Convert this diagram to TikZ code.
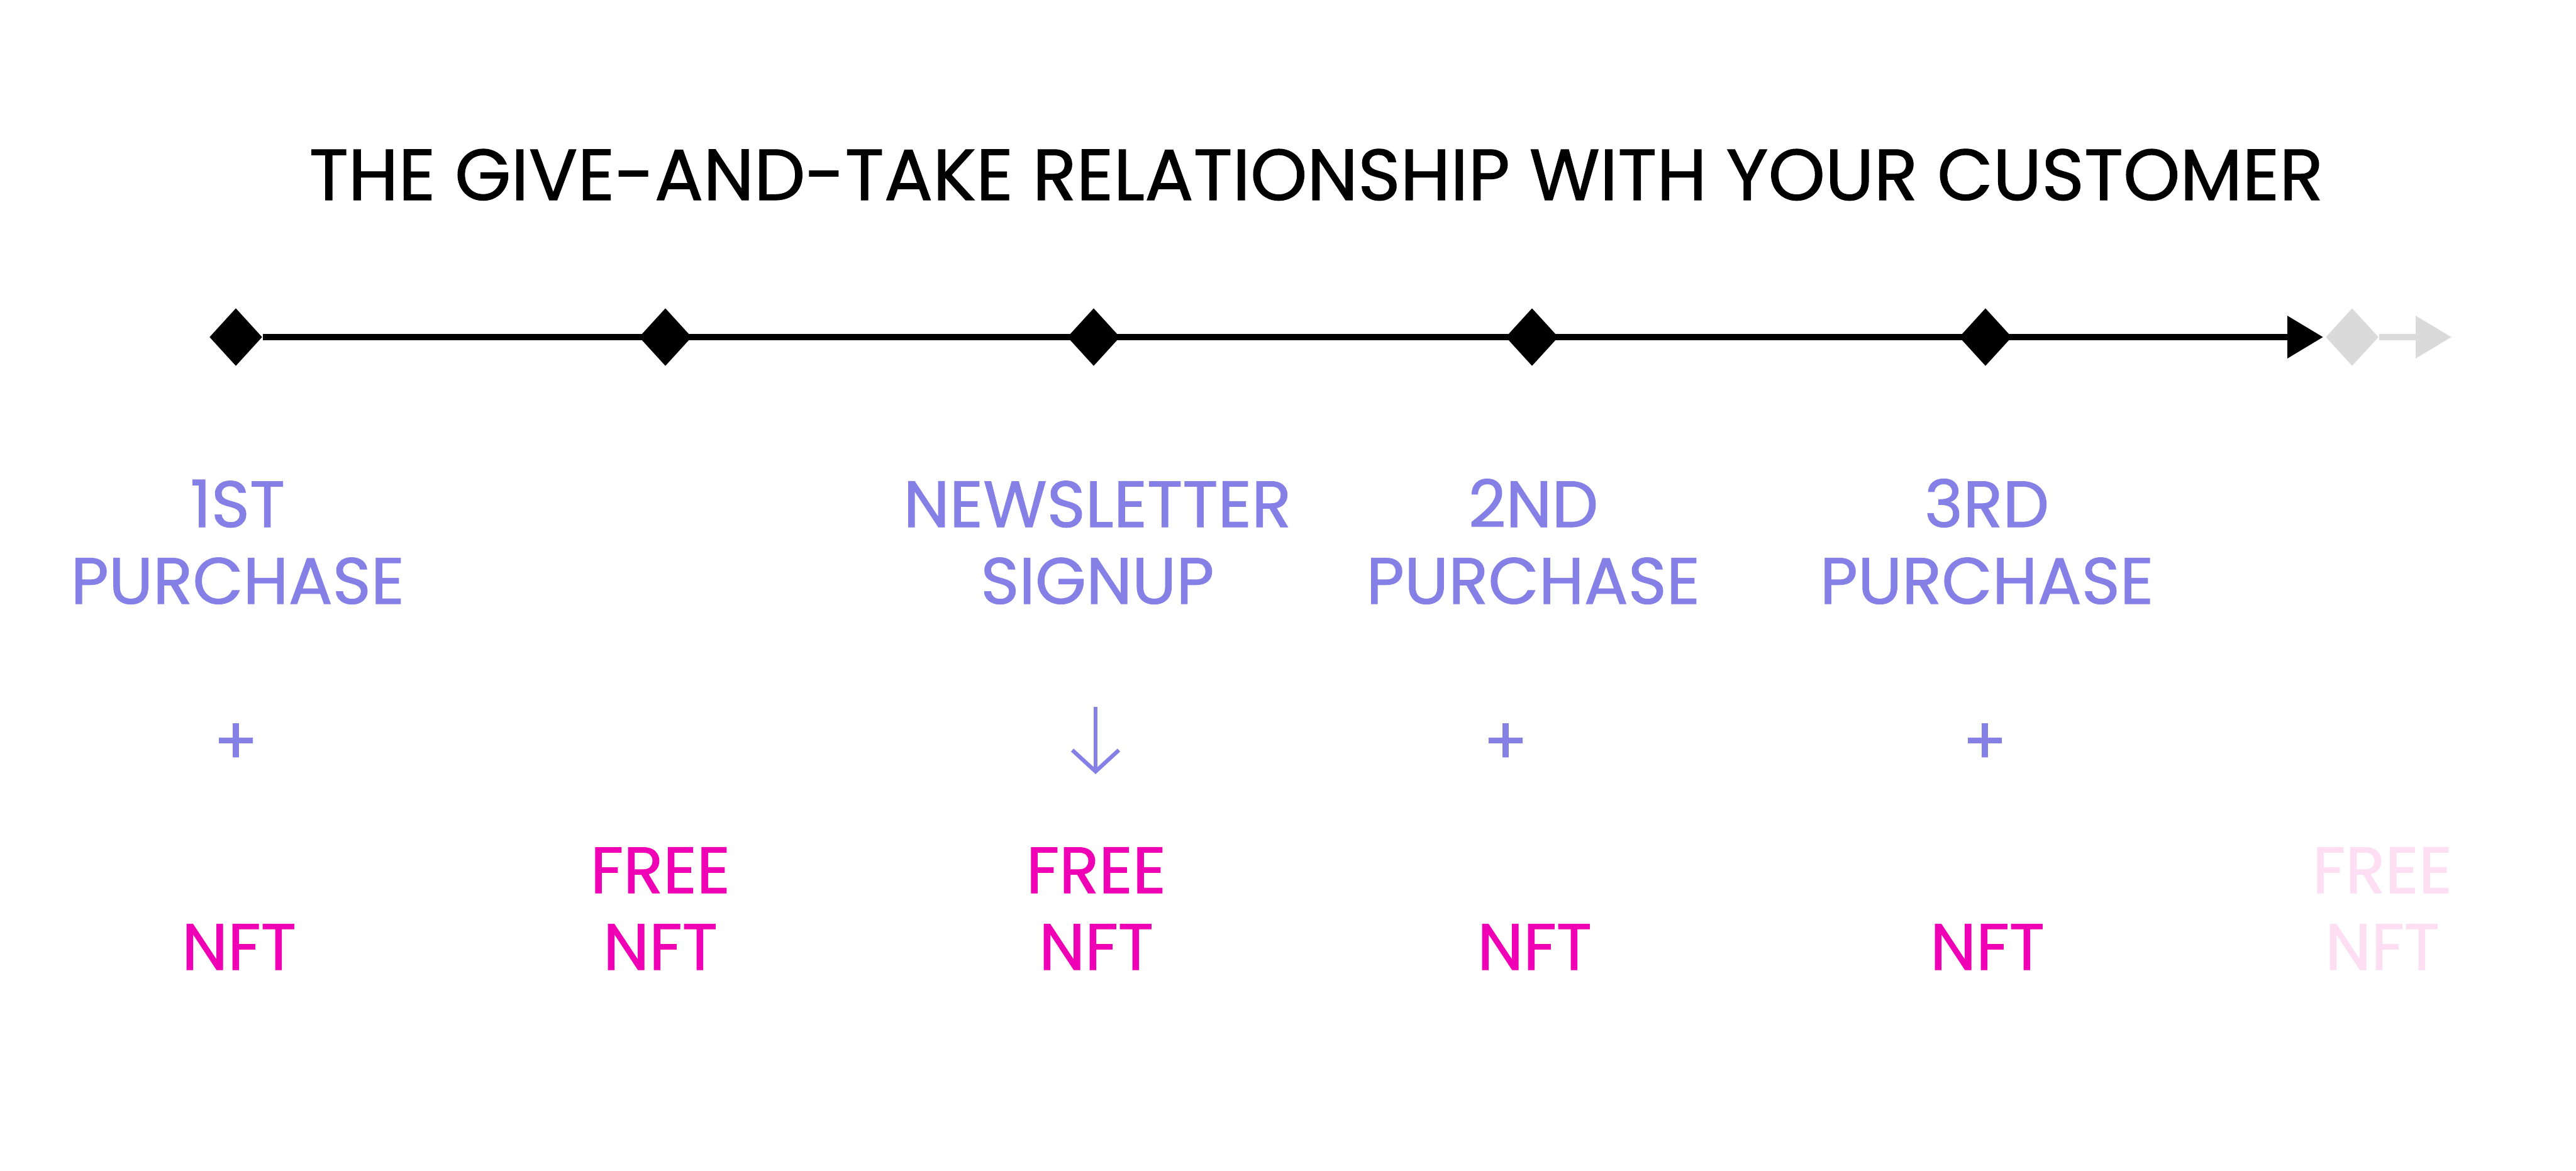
\documentclass[tikz,border=0pt]{standalone}
\usepackage{fontspec}
\newfontfamily\handfont{Poppins}[FakeBold=1]
\usepackage{tikz}
\usetikzlibrary{arrows.meta, shapes.geometric}
\definecolor{lilac}{RGB}{132,128,230}
\definecolor{nftpink}{RGB}{240,0,180}
\definecolor{fadepink}{RGB}{253,222,243}
\definecolor{fadegray}{RGB}{218,218,218}
\tikzset{
  milestone/.style={
    diamond, fill=black, inner sep=0pt,
    minimum width=8.4mm, minimum height=9.2mm
  },
  ghoststone/.style={milestone, fill=fadegray},
  tl/.style={line width=3.1pt, -{Triangle[length=5.7mm,width=6.5mm]}},
  ghostline/.style={tl, fadegray},
  evt/.style={
    font=\handfont\fontsize{29.6pt}{34.7pt}\selectfont,
    text=lilac, align=center, inner sep=0pt, anchor=base
  },
  gift/.style={evt, text=nftpink},
  ghostgift/.style={evt, text=fadepink},
  ttl/.style={evt, text=black, font=\handfont\fontsize{32.7pt}{38pt}\selectfont},
  plus/.style={evt, anchor=center},
  down/.style={line width=1.8pt, lilac, -{Straight Barb[length=3.4mm,width=7.4mm]}}
}

\begin{document}
\begin{tikzpicture}
  \useasboundingbox (0,0) rectangle (40.96,-18.62);

  \node[ttl] (title) at (20.93,-3.18) {THE GIVE-AND-TAKE RELATIONSHIP WITH YOUR CUSTOMER};

  % timeline
  \node[milestone]  (d1) at (3.75,-5.36)  {};
  \node[milestone]  (d2) at (10.58,-5.36) {};
  \node[milestone]  (d3) at (17.39,-5.36) {};
  \node[milestone]  (d4) at (24.36,-5.36) {};
  \node[milestone]  (d5) at (31.57,-5.36) {};
  \node[ghoststone] (d6) at (37.40,-5.36) {};
  \coordinate (tip)  at (36.94,-5.36);
  \coordinate (tip2) at (38.98,-5.36);

  \draw[tl] (d1.east) -- (tip);
  \draw[ghostline] (d6.east) -- (tip2);

  % what the customer gives (base = last line)
  \node[evt] (first)  at (3.78,-9.60)  {1ST\\PURCHASE};
  \node[evt] (news)   at (17.45,-9.60) {NEWSLETTER\\SIGNUP};
  \node[evt] (second) at (24.38,-9.60) {2ND\\PURCHASE};
  \node[evt] (third)  at (31.59,-9.60) {3RD\\PURCHASE};

  \node[plus] (p1) at (3.75,-11.83)  {+};
  \node[plus] (p4) at (23.94,-11.83) {+};
  \node[plus] (p5) at (31.56,-11.83) {+};

  \coordinate (a1) at (17.42,-11.24);
  \coordinate (a2) at (17.42,-12.31);
  \draw[down] (a1) -- (a2);

  % what the customer gets
  \node[gift] (nft1) at (3.80,-15.42)  {NFT};
  \node[gift] (nft2) at (10.50,-15.42) {FREE\\NFT};
  \node[gift] (nft3) at (17.43,-15.42) {FREE\\NFT};
  \node[gift] (nft4) at (24.40,-15.42) {NFT};
  \node[gift] (nft5) at (31.60,-15.42) {NFT};
  \node[ghostgift] (nft6) at (37.88,-15.42) {FREE\\NFT};

\end{tikzpicture}
\end{document}
